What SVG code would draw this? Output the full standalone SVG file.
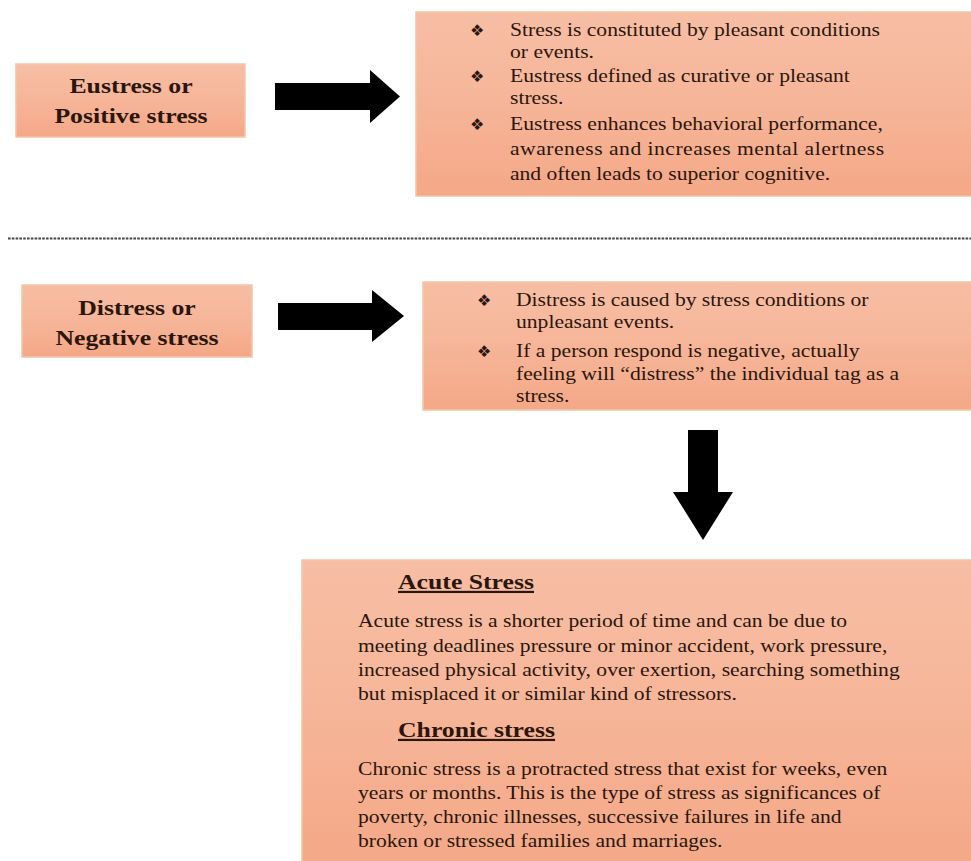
<svg xmlns="http://www.w3.org/2000/svg" width="971" height="861" viewBox="0 0 971 861">
<defs>
<linearGradient id="fillg" x1="0" y1="0" x2="0" y2="1">
<stop offset="0" stop-color="#f7bea5"/>
<stop offset="0.5" stop-color="#f6b598"/>
<stop offset="1" stop-color="#f4a887"/>
</linearGradient>
<style>
.box{fill:url(#fillg);stroke:#f2c6a8;stroke-width:1.5}
.title{font-family:"Liberation Serif",serif;font-weight:bold;font-size:22px;fill:#2a160c;text-anchor:middle}
.body{font-family:"Liberation Serif",serif;font-size:19px;fill:#2a160c}
.head{font-family:"Liberation Serif",serif;font-weight:bold;font-size:22px;fill:#2a160c;text-decoration:underline}
.bul{font-family:"DejaVu Sans",sans-serif;font-size:16px;fill:#2a160c}
.arrow{fill:#000}
</style>
</defs>
<rect width="971" height="861" fill="#ffffff"/>
<line x1="8" y1="238.5" x2="971" y2="238.5" stroke="#444" stroke-width="2" stroke-dasharray="2.6 1.2"/>
<g id="eustress">
<rect class="box" x="16" y="64" width="229" height="73"/>
<g transform="translate(131,0) scale(1.17,1)">
<text class="title" x="0" y="93">Eustress or</text>
<text class="title" x="0" y="123">Positive stress</text>
</g>
</g>
<g id="eustress-desc">
<rect class="box" x="416" y="12" width="560" height="184"/>
<text class="bul" x="470" y="36">❖</text>
<text class="bul" x="470" y="82">❖</text>
<text class="bul" x="470" y="130">❖</text>
<g transform="translate(510,0) scale(1.137,1)">
<text class="body" x="0" y="36">Stress is constituted by pleasant conditions</text>
<text class="body" x="0" y="58">or events.</text>
<text class="body" x="0" y="82">Eustress defined as curative or pleasant</text>
<text class="body" x="0" y="104">stress.</text>
<text class="body" x="0" y="130">Eustress enhances behavioral performance,</text>
<text class="body" x="0" y="155" textLength="329" lengthAdjust="spacing">awareness and increases mental alertness</text>
<text class="body" x="0" y="180">and often leads to superior cognitive.</text>
</g>
</g>
<g id="distress">
<rect class="box" x="22" y="285" width="230" height="72"/>
<g transform="translate(137,0) scale(1.17,1)">
<text class="title" x="0" y="315">Distress or</text>
<text class="title" x="0" y="345">Negative stress</text>
</g>
</g>
<g id="distress-desc">
<rect class="box" x="423" y="282" width="553" height="128"/>
<text class="bul" x="477" y="306">❖</text>
<text class="bul" x="477" y="357">❖</text>
<g transform="translate(516,0) scale(1.137,1)">
<text class="body" x="0" y="306">Distress is caused by stress conditions or</text>
<text class="body" x="0" y="328">unpleasant events.</text>
<text class="body" x="0" y="357">If a person respond is negative, actually</text>
<text class="body" x="0" y="380">feeling will “distress” the individual tag as a</text>
<text class="body" x="0" y="402">stress.</text>
</g>
</g>
<g id="types">
<rect class="box" x="302" y="560" width="674" height="306"/>
<g transform="translate(398,0) scale(1.17,1)">
<text class="head" x="0" y="589">Acute Stress</text>
<text class="head" x="0" y="737">Chronic stress</text>
</g>
<g transform="translate(358,0) scale(1.137,1)">
<text class="body" x="0" y="627">Acute stress is a shorter period of time and can be due to</text>
<text class="body" x="0" y="652">meeting deadlines pressure or minor accident, work pressure,</text>
<text class="body" x="0" y="676">increased physical activity, over exertion, searching something</text>
<text class="body" x="0" y="700">but misplaced it or similar kind of stressors.</text>
<text class="body" x="0" y="775">Chronic stress is a protracted stress that exist for weeks, even</text>
<text class="body" x="0" y="799">years or months. This is the type of stress as significances of</text>
<text class="body" x="0" y="823">poverty, chronic illnesses, successive failures in life and</text>
<text class="body" x="0" y="847">broken or stressed families and marriages.</text>
</g>
</g>
<g id="connectors">
<polygon class="arrow" points="275,83 370,83 370,70 400,96.5 370,123 370,110 275,110"/>
<polygon class="arrow" points="278,303 372,303 372,290 404,316 372,342 372,330 278,330"/>
<polygon class="arrow" points="688,430 718,430 718,492 733,492 703,540 673,492 688,492"/>
</g>
</svg>
